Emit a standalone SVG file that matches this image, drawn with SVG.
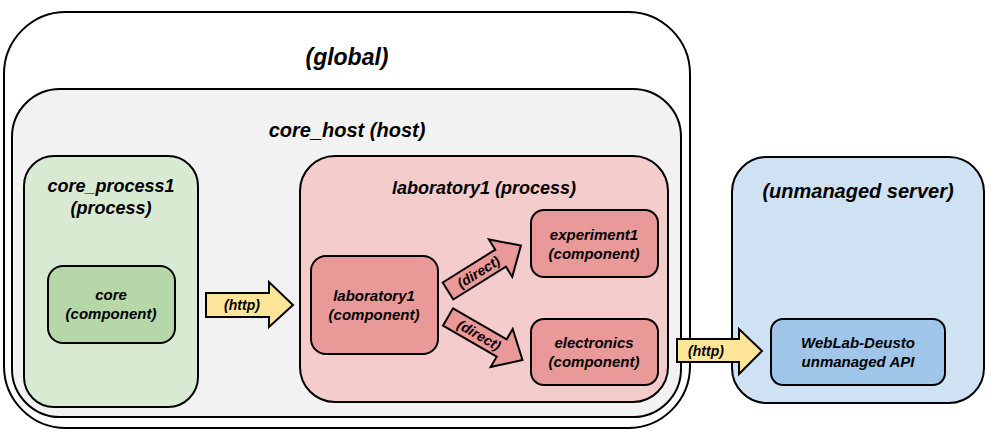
<svg xmlns="http://www.w3.org/2000/svg" width="995" height="434" viewBox="0 0 995 434">
<style>
.box{stroke:#000;stroke-width:2}
.t{font-family:"Liberation Sans",Arial,sans-serif;font-weight:bold;font-style:italic;fill:#000;text-anchor:middle}
.arr{stroke:#000;stroke-width:2;stroke-linejoin:miter}
</style>
<defs>
<polygon id="fat" points="0,-10 62,-10 62,-22 86,0 62,22 62,10 0,10"/>
</defs>
<g id="global">
<rect class="box" x="4" y="12" width="686" height="416" rx="62" fill="#ffffff"/>
<text class="t" x="347" y="65" font-size="23">(global)</text>
</g>
<g id="core_host">
<rect class="box" x="12" y="89" width="669" height="328" rx="48" fill="#f2f2f2"/>
<text class="t" x="347" y="137" font-size="20">core_host (host)</text>
</g>
<g id="core_process1">
<rect class="box" x="24" y="156" width="174" height="251" rx="30" fill="#d9ead3"/>
<text class="t" x="111" y="192" font-size="18">core_process1</text>
<text class="t" x="111" y="214" font-size="18">(process)</text>
</g>
<g id="core">
<rect class="box" x="48" y="266" width="127" height="77" rx="15" fill="#b6d7a8"/>
<text class="t" x="111" y="300" font-size="15">core</text>
<text class="t" x="111" y="319" font-size="15">(component)</text>
</g>
<g id="laboratory1_process">
<rect class="box" x="300" y="156" width="368" height="246" rx="35" fill="#f4cccc"/>
<text class="t" x="484" y="194" font-size="18">laboratory1 (process)</text>
</g>
<g id="laboratory1">
<rect class="box" x="311" y="256" width="127" height="98" rx="15" fill="#ea9999"/>
<text class="t" x="374" y="301" font-size="15">laboratory1</text>
<text class="t" x="374" y="320" font-size="15">(component)</text>
</g>
<g id="experiment1">
<rect class="box" x="531" y="210" width="127" height="67" rx="13" fill="#ea9999"/>
<text class="t" x="594" y="240" font-size="15">experiment1</text>
<text class="t" x="594" y="259" font-size="15">(component)</text>
</g>
<g id="electronics">
<rect class="box" x="531" y="319" width="127" height="66" rx="13" fill="#ea9999"/>
<text class="t" x="594" y="348" font-size="15">electronics</text>
<text class="t" x="594" y="367" font-size="15">(component)</text>
</g>
<g id="unmanaged_server">
<rect class="box" x="732" y="157" width="252" height="246" rx="35" fill="#cfe2f3"/>
<text class="t" x="858" y="198" font-size="20">(unmanaged server)</text>
</g>
<g id="weblab_api">
<rect class="box" x="771" y="319" width="174" height="66" rx="12" fill="#9fc5e8"/>
<text class="t" x="858" y="348" font-size="15">WebLab-Deusto</text>
<text class="t" x="858" y="367" font-size="15">unmanaged API</text>
</g>
<g id="connectors">
<polygon class="arr" fill="#ffe599" points="206,293 269,293 269,282 293,305 269,327 269,317 206,317"/>
<text class="t" x="242" y="310" font-size="14">(http)</text>
<polygon class="arr" fill="#ffe599" points="677,339 739,339 739,329 762,351 739,374 739,362 677,362"/>
<text class="t" x="706" y="356" font-size="14">(http)</text>
<g transform="translate(448,291) rotate(-32)">
<use href="#fat" class="arr" fill="#ea9999"/>
<text class="t" x="36" y="5" font-size="14">(direct)</text>
</g>
<g transform="translate(448,317) rotate(30)">
<use href="#fat" class="arr" fill="#ea9999"/>
<text class="t" x="36" y="5" font-size="14">(direct)</text>
</g>
</g>
</svg>
